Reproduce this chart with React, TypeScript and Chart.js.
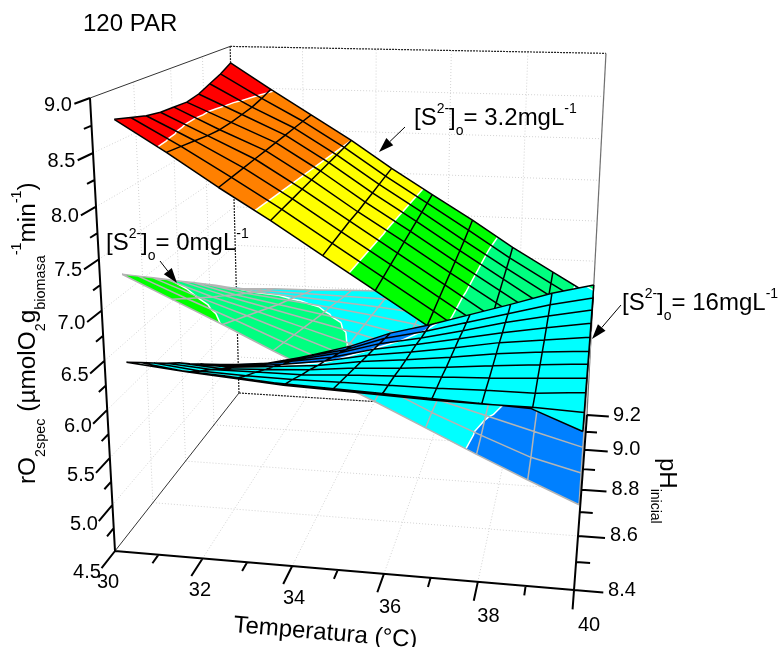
import React, { useEffect, useRef } from "react";
import { Chart, registerables } from "chart.js";

Chart.register(...registerables);

// ---------- data ----------
const temperatureGrid = [30, 31.11, 32.22, 33.33, 34.44, 35.56, 36.67, 37.78, 38.89, 40];
const phGridCoarse = [8.5, 8.578, 8.656, 8.733, 8.811, 8.889, 8.967, 9.044, 9.122, 9.2];
const phGridFine = [8.5, 8.57, 8.64, 8.71, 8.78, 8.85, 8.92, 8.99, 9.06, 9.13, 9.2];

// rows: temperature, columns: pH
const surfaceS0 = [
  [7.2, 7.06, 6.92, 6.78, 6.64, 6.5, 6.36, 6.22, 6.07, 5.93],
  [6.97, 6.85, 6.73, 6.61, 6.5, 6.38, 6.27, 6.16, 6.05, 5.95],
  [6.74, 6.65, 6.56, 6.47, 6.38, 6.29, 6.21, 6.13, 6.04, 5.96],
  [6.5, 6.44, 6.38, 6.32, 6.26, 6.2, 6.15, 6.09, 6.03, 5.98],
  [6.27, 6.24, 6.2, 6.17, 6.14, 6.11, 6.08, 6.05, 6.02, 5.99],
  [6.04, 6.03, 6.02, 6.01, 6.01, 6.0, 6.0, 6.0, 6.0, 6.0],
  [5.8, 5.79, 5.76, 5.77, 5.79, 5.82, 5.85, 5.88, 5.91, 5.94],
  [5.56, 5.58, 5.62, 5.64, 5.66, 5.68, 5.7, 5.72, 5.74, 5.76],
  [5.33, 5.38, 5.48, 5.55, 5.6, 5.63, 5.65, 5.67, 5.69, 5.71],
  [5.11, 5.25, 5.34, 5.42, 5.48, 5.52, 5.55, 5.58, 5.6, 5.6],
];
const surfaceS32 = [
  [8.72, 8.67, 8.62, 8.59, 8.58, 8.57, 8.6, 8.66, 8.72, 8.8],
  [8.42, 8.4, 8.38, 8.36, 8.35, 8.36, 8.38, 8.4, 8.44, 8.49],
  [8.1, 8.11, 8.12, 8.13, 8.14, 8.15, 8.16, 8.17, 8.18, 8.19],
  [7.8, 7.81, 7.82, 7.83, 7.84, 7.85, 7.86, 7.87, 7.88, 7.89],
  [7.48, 7.49, 7.5, 7.51, 7.51, 7.52, 7.53, 7.54, 7.55, 7.56],
  [7.16, 7.17, 7.18, 7.19, 7.2, 7.21, 7.22, 7.23, 7.24, 7.25],
  [6.84, 6.85, 6.86, 6.87, 6.88, 6.89, 6.9, 6.91, 6.93, 6.95],
  [6.51, 6.52, 6.54, 6.55, 6.57, 6.58, 6.59, 6.6, 6.61, 6.63],
  [6.2, 6.21, 6.23, 6.24, 6.26, 6.27, 6.28, 6.3, 6.32, 6.34],
  [5.9, 5.91, 5.93, 5.94, 5.96, 5.98, 5.99, 6.01, 6.03, 6.05],
];
const surfaceS16 = [
  [6.29, 6.15, 6.01, 5.87, 5.74, 5.59, 5.45, 5.31, 5.17, 5.03, 4.89],
  [6.24, 6.08, 5.95, 5.83, 5.7, 5.58, 5.45, 5.33, 5.2, 5.08, 4.95],
  [6.21, 6.04, 5.93, 5.83, 5.72, 5.62, 5.51, 5.41, 5.3, 5.2, 5.09],
  [6.17, 6.0, 5.92, 5.83, 5.75, 5.66, 5.58, 5.49, 5.41, 5.32, 5.24],
  [6.15, 5.98, 5.92, 5.86, 5.8, 5.74, 5.68, 5.62, 5.56, 5.5, 5.44],
  [6.13, 5.96, 5.92, 5.88, 5.83, 5.79, 5.75, 5.71, 5.66, 5.62, 5.58],
  [6.11, 5.94, 5.92, 5.9, 5.87, 5.85, 5.83, 5.81, 5.78, 5.76, 5.74],
  [6.09, 5.93, 5.93, 5.92, 5.92, 5.92, 5.92, 5.91, 5.91, 5.9, 5.9],
  [6.07, 5.93, 5.93, 5.95, 5.96, 5.97, 5.98, 6.0, 6.02, 6.04, 6.07],
  [5.87, 5.91, 5.97, 5.98, 6.0, 6.01, 6.04, 6.08, 6.12, 6.15, 6.2],
];

const colorLevels = [5.61, 6.18, 6.75, 7.32, 7.89, 8.47];
const bandColors = ["#0080FF", "#00FFFF", "#00FF80", "#00FF00", "#FFFF00", "#FF8000", "#FF0000"];

const rMajorTicks = [4.5, 5, 5.5, 6, 6.5, 7, 7.5, 8, 8.5, 9];
const rMinorTicks = [4.75, 5.25, 5.75, 6.25, 6.75, 7.25, 7.75, 8.25, 8.75];
const tMajorTicks = [30, 32, 34, 36, 38, 40];
const tMinorTicks = [31, 33, 35, 37, 39];
const phMajorTicks = [8.4, 8.6, 8.8, 9.0, 9.2];
const phMinorTicks = [8.5, 8.7, 8.9, 9.1];

const FONT = '"Liberation Sans", Arial, sans-serif';
const W = 782;
const H = 647;

// ---------- 3D projection (Temperature, pH, rate) -> picture plane ----------
function project(t: number, ph: number, r: number) {
  const u = (t - 30) / 10;
  const v = (ph - 8.4) / 0.8;
  const w = (r - 4.5) / 4.5;
  const d = 1 - 0.0568 * u + 0.3211 * v - 0.095 * w;
  return {
    x: (115 + 426.4 * u + 200.7 * v - 33.55 * w) / d,
    y: (551 + 5.5 * u - 31.8 * v - 462.3 * w) / d,
  };
}

type V = { t: number; ph: number; r: number };
const GAP = { x: null as any, y: null as any };

function lerpV(a: V, b: V, level: number): V {
  const k = (level - a.r) / (b.r - a.r);
  return { t: a.t + (b.t - a.t) * k, ph: a.ph + (b.ph - a.ph) * k, r: level };
}
function clip(poly: V[], level: number, keepAbove: boolean): V[] {
  const out: V[] = [];
  for (let i = 0; i < poly.length; i++) {
    const a = poly[i];
    const b = poly[(i + 1) % poly.length];
    const ain = keepAbove ? a.r >= level : a.r <= level;
    const bin = keepAbove ? b.r >= level : b.r <= level;
    if (ain) out.push(a);
    if (ain !== bin) out.push(lerpV(a, b, level));
  }
  return out;
}

function triangles(matrix: number[][], phs: number[]): V[][] {
  const tris: V[][] = [];
  for (let i = 0; i < matrix.length - 1; i++) {
    for (let j = 0; j < phs.length - 1; j++) {
      const a = { t: temperatureGrid[i], ph: phs[j], r: matrix[i][j] };
      const b = { t: temperatureGrid[i + 1], ph: phs[j], r: matrix[i + 1][j] };
      const c = { t: temperatureGrid[i + 1], ph: phs[j + 1], r: matrix[i + 1][j + 1] };
      const d = { t: temperatureGrid[i], ph: phs[j + 1], r: matrix[i][j + 1] };
      tris.push([a, b, c], [a, c, d]);
    }
  }
  return tris;
}

function lineDs(data: any[], color: string, width: number, dash: number[] = []) {
  return {
    type: "scatter",
    data,
    showLine: true,
    pointRadius: 0,
    borderColor: color,
    backgroundColor: color,
    borderWidth: width,
    borderDash: dash,
    borderJoinStyle: "round",
    fill: false,
  };
}

function surfaceDatasets(matrix: number[][], phs: number[], meshColor: string) {
  const out: any[] = [];
  const tris = triangles(matrix, phs);
  bandColors.forEach((color, b) => {
    const lo = b === 0 ? -Infinity : colorLevels[b - 1];
    const hi = b === bandColors.length - 1 ? Infinity : colorLevels[b];
    const data: any[] = [];
    tris.forEach((tri) => {
      let p = tri;
      if (lo !== -Infinity) p = clip(p, lo, true);
      if (p.length && hi !== Infinity) p = clip(p, hi, false);
      if (p.length < 3) return;
      let pts = p.map((q) => project(q.t, q.ph, q.r));
      let area = 0;
      pts.forEach((q, k) => {
        const n = pts[(k + 1) % pts.length];
        area += q.x * n.y - n.x * q.y;
      });
      if (area < 0) pts = pts.slice().reverse();
      data.push(...pts, GAP);
    });
    out.push({
      type: "scatter",
      data,
      showLine: false,
      pointRadius: 0,
      polyFill: color,
    });
  });
  const contour: any[] = [];
  colorLevels.forEach((level) => {
    tris.forEach((tri) => {
      const cross: V[] = [];
      for (let k = 0; k < 3; k++) {
        const a = tri[k];
        const b = tri[(k + 1) % 3];
        if (a.r < level !== b.r < level) cross.push(lerpV(a, b, level));
      }
      if (cross.length === 2) {
        contour.push(project(cross[0].t, cross[0].ph, level), project(cross[1].t, cross[1].ph, level), GAP);
      }
    });
  });
  out.push(lineDs(contour, "#FFFFFF", 1.5));
  const mesh: any[] = [];
  matrix.forEach((row, i) => {
    row.forEach((r, j) => mesh.push(project(temperatureGrid[i], phs[j], r)));
    mesh.push(GAP);
  });
  phs.forEach((ph, j) => {
    matrix.forEach((row, i) => mesh.push(project(temperatureGrid[i], ph, row[j])));
    mesh.push(GAP);
  });
  out.push(lineDs(mesh, meshColor, 1.5));
  return out;
}

function seg(a: [number, number, number], b: [number, number, number]) {
  return [project(a[0], a[1], a[2]), project(b[0], b[1], b[2]), GAP];
}

function buildDatasets() {
  const grid: any[] = [];
  [32, 34, 36, 38].forEach((t) => {
    grid.push(...seg([t, 8.4, 4.5], [t, 9.2, 4.5]), ...seg([t, 9.2, 4.5], [t, 9.2, 9]));
  });
  [8.6, 8.8, 9.0].forEach((ph) => {
    grid.push(...seg([30, ph, 4.5], [40, ph, 4.5]), ...seg([30, ph, 4.5], [30, ph, 9]));
  });
  [5, 5.5, 6, 6.5, 7, 7.5, 8, 8.5].forEach((r) => {
    grid.push(...seg([30, 8.4, r], [30, 9.2, r]), ...seg([30, 9.2, r], [40, 9.2, r]));
  });
  const thinBox = [
    ...seg([30, 8.4, 9], [30, 9.2, 9]),
    ...seg([30, 8.4, 4.5], [30, 9.2, 4.5]),
  ];
  const backDotted = [
    ...seg([30, 9.2, 4.5], [30, 9.2, 9]),
    ...seg([30, 9.2, 4.5], [40, 9.2, 4.5]),
    ...seg([30, 9.2, 9], [40, 9.2, 9]),
  ];
  const rightBack = seg([40, 9.2, 4.5], [40, 9.2, 9]);

  const axes = [
    ...seg([30, 8.4, 4.5], [30, 8.4, 9]),
    ...seg([30, 8.4, 4.5], [40, 8.4, 4.5]),
    ...seg([40, 8.4, 4.5], [40, 9.2, 4.5]),
  ];
  rMajorTicks.forEach((r) => axes.push(...seg([30, 8.4, r], [30, 8.336, r])));
  rMinorTicks.forEach((r) => axes.push(...seg([30, 8.4, r], [30, 8.368, r])));
  tMajorTicks.forEach((t) => axes.push(...seg([t, 8.4, 4.5], [t, 8.336, 4.5])));
  tMinorTicks.forEach((t) => axes.push(...seg([t, 8.4, 4.5], [t, 8.368, 4.5])));
  phMajorTicks.forEach((p) => axes.push(...seg([40, p, 4.5], [40.6, p, 4.5])));
  phMinorTicks.forEach((p) => axes.push(...seg([40, p, 4.5], [40.3, p, 4.5])));

  const list = [
    lineDs(grid, "#D2D2D2", 1, [1, 2]),
    lineDs(backDotted, "#222222", 1.2, [2, 1]),
    lineDs(rightBack, "#707070", 1.2),
    lineDs(thinBox, "#333333", 1),
    ...surfaceDatasets(surfaceS0, phGridCoarse, "#B4B4B4"),
    ...surfaceDatasets(surfaceS32, phGridCoarse, "#000000"),
    ...surfaceDatasets(surfaceS16, phGridFine, "#000000"),
    lineDs(axes, "#000000", 2),
  ];
  list.forEach((d, i) => (d.order = list.length - i));
  return list;
}

// ---------- text ----------
type Seg = [string, number, number];
const sulfide: Seg[] = [
  ["[S", 24, 0],
  ["2-", 14, -12],
  ["]", 24, 0],
  ["o", 14, 10],
];
const annotations: { segs: Seg[]; x: number; y: number }[] = [
  { segs: [...sulfide, ["= 3.2mgL", 24, 0], ["-1", 14, -12]], x: 414, y: 125 },
  { segs: [...sulfide, ["= 0mgL", 24, 0], ["-1", 14, -12]], x: 106, y: 250 },
  { segs: [...sulfide, ["= 16mgL", 24, 0], ["-1", 14, -12]], x: 622, y: 310 },
];
const arrows = [
  [405, 127, 379, 152],
  [160, 261, 177, 283],
  [621, 305, 592, 339],
];
const yTitle: Seg[] = [
  ["rO", 24.4, 0],
  ["2spec", 14.4, 10],
  [" (\u00B5molO", 24.4, 0],
  ["2", 14.4, 10],
  ["g", 24.4, 0],
  ["biomasa", 14.4, 10],
  ["-1", 14.4, -14],
  ["min", 24.4, 0],
  ["-1", 14.4, -14],
  [")", 24.4, 0],
];
const phTitle: Seg[] = [
  ["pH", 24, 0],
  ["inicial", 14, 9],
];

function rich(ctx: CanvasRenderingContext2D, segs: Seg[], x: number, y: number, rot = 0) {
  ctx.save();
  ctx.translate(x, y);
  ctx.rotate(rot);
  ctx.textAlign = "left";
  ctx.textBaseline = "alphabetic";
  let cx = 0;
  segs.forEach(([s, size, dy]) => {
    ctx.font = `${size}px ${FONT}`;
    ctx.fillText(s, cx, dy);
    cx += ctx.measureText(s).width;
  });
  ctx.restore();
}

const polyPlugin = {
  id: "polyFill",
  beforeDatasetDraw(chart: any, args: any) {
    const ds = chart.data.datasets[args.index];
    if (!ds.polyFill) return;
    const ctx = chart.ctx;
    ctx.save();
    ctx.fillStyle = ds.polyFill;
    ctx.beginPath();
    let pen = false;
    args.meta.data.forEach((p: any) => {
      if (p.skip) {
        if (pen) ctx.closePath();
        pen = false;
      } else if (!pen) {
        ctx.moveTo(p.x, p.y);
        pen = true;
      } else {
        ctx.lineTo(p.x, p.y);
      }
    });
    ctx.fill();
    ctx.restore();
  },
};

const textPlugin = {
  id: "chartText",
  afterDraw(chart: any) {
    const ctx: CanvasRenderingContext2D = chart.ctx;
    const sx = chart.scales.x;
    const sy = chart.scales.y;
    const px = (p: { x: number; y: number }) => ({ x: sx.getPixelForValue(p.x), y: sy.getPixelForValue(p.y) });
    ctx.save();
    ctx.fillStyle = "#000";
    ctx.strokeStyle = "#000";
    ctx.textAlign = "center";
    ctx.textBaseline = "middle";
    ctx.font = `20px ${FONT}`;
    rMajorTicks.forEach((r) => {
      const p = px(project(30, 8.4, r));
      const k = (9 - r) / 4.5;
      ctx.fillText(r.toFixed(1), p.x - 32 + 4 * k, p.y + 7 + 14 * k);
    });
    tMajorTicks.forEach((t) => {
      const p = px(project(t, 8.4, 4.5));
      const u = (t - 30) / 10;
      ctx.fillText(String(t), p.x - 7 + 22 * u, p.y + 31 + 4 * u);
    });
    phMajorTicks.forEach((ph) => {
      const p = px(project(40, ph, 4.5));
      const k = (ph - 8.4) / 0.8;
      ctx.fillText(ph.toFixed(1), p.x + 48 - 8 * k, p.y);
    });

    rich(ctx, [["120 PAR", 24, 0]], 83, 31);
    rich(ctx, [["Temperatura (\u00B0C)", 24, 0]], 233, 632, (4.8 * Math.PI) / 180);
    rich(ctx, yTitle, 35, 484, -Math.PI / 2);
    rich(ctx, phTitle, 660, 458, Math.PI / 2);
    annotations.forEach((a) => rich(ctx, a.segs, a.x, a.y));

    arrows.forEach(([x0, y0, x1, y1]) => {
      const ang = Math.atan2(y1 - y0, x1 - x0);
      const len = 15;
      const bx = x1 - len * Math.cos(ang);
      const by = y1 - len * Math.sin(ang);
      ctx.lineWidth = 1;
      ctx.beginPath();
      ctx.moveTo(x0, y0);
      ctx.lineTo(bx, by);
      ctx.stroke();
      const nx = -Math.sin(ang) * 5;
      const ny = Math.cos(ang) * 5;
      ctx.beginPath();
      ctx.moveTo(x1, y1);
      ctx.lineTo(bx + nx, by + ny);
      ctx.lineTo(bx - nx, by - ny);
      ctx.closePath();
      ctx.fill();
    });
    ctx.restore();
  },
};

export default function App() {
  const ref = useRef<HTMLCanvasElement>(null);
  useEffect(() => {
    document.body.style.margin = "0";
    const chart = new Chart(ref.current as HTMLCanvasElement, {
      type: "scatter",
      data: { datasets: buildDatasets() as any },
      options: {
        animation: false,
        responsive: false,
        events: [],
        layout: { padding: 0 },
        plugins: { legend: { display: false }, tooltip: { enabled: false } },
        scales: {
          x: { type: "linear", min: 0, max: W, display: false },
          y: { type: "linear", min: 0, max: H, reverse: true, display: false },
        },
      } as any,
      plugins: [polyPlugin, textPlugin],
    });
    return () => chart.destroy();
  }, []);
  return <canvas ref={ref} width={W} height={H} style={{ display: "block" }} />;
}
